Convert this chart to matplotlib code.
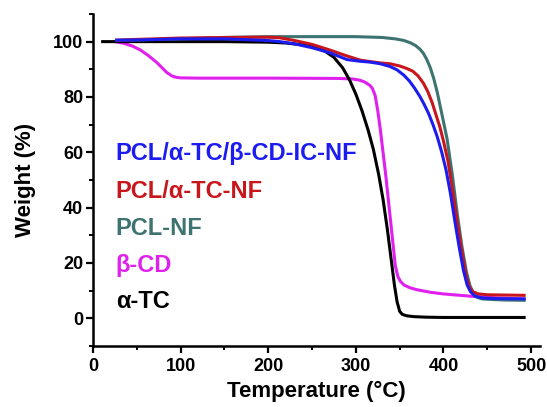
import matplotlib.pyplot as plt
from matplotlib.ticker import MultipleLocator

plt.rcParams['font.family'] = ['Liberation Sans', 'DejaVu Sans']
plt.rcParams['font.weight'] = 'bold'

# TGA data: temperature (°C), weight (%)
t_tc = [11, 50, 100, 150, 200, 220, 240, 255, 265, 275, 285, 293, 300, 307, 314, 320, 326, 331, 336,
        340, 344, 347, 350, 353, 358, 366, 380, 400, 440, 492]
w_tc = [100, 100, 100, 100, 99.8, 99.5, 98.8, 97.8, 96.5, 94.3, 90.5, 86, 81, 75, 68, 61, 52, 43, 32,
        22, 12, 6, 2.5, 1.4, 0.9, 0.6, 0.4, 0.3, 0.3, 0.3]

t_cd = [25, 35, 45, 54, 63, 73, 79, 84, 90, 95, 100, 120, 200, 280, 296, 304, 310, 316, 319, 322, 325,
        328, 331, 334, 337, 341, 345, 348, 351, 355, 362, 370, 385, 400, 430, 460, 492]
w_cd = [100, 99.4, 98.4, 97, 95, 92.4, 90.5, 88.9, 87.6, 87.1, 86.9, 86.8, 86.8, 86.7, 86.5, 86.1, 85.4,
        84.2, 83, 80.5, 75, 68, 60, 52, 43, 31, 19, 15, 13.3, 12, 11, 10.3, 9.4, 8.8, 8, 7.4, 7]

t_pcl = [27, 50, 100, 150, 200, 250, 300, 330, 345, 355, 362, 368, 373, 377, 381, 385, 389, 393, 398,
         404, 410, 416, 421, 426, 430, 434, 438, 444, 455, 470, 492]
w_pcl = [100.5, 100.6, 101, 101.5, 101.8, 101.8, 101.8, 101.5, 101, 100.4, 99.6, 98.6, 97.3, 95.8, 93.5,
         90.5, 86.5, 81.5, 74, 65, 52, 37, 26, 17, 12, 9, 7.6, 7, 6.8, 6.6, 6.5]

t_tcnf = [27, 50, 100, 150, 200, 213, 230, 250, 270, 290, 305, 316, 328, 339, 350, 358, 365, 371, 377,
          382, 387, 392, 396, 400, 405, 410, 416, 421, 426, 430, 434, 440, 450, 470, 492]
w_tcnf = [100.5, 100.8, 101.3, 101.5, 101.6, 101.4, 100.4, 99, 97, 94.8, 93.3, 92.8, 92.3, 92, 91.2,
          90.3, 89.3, 87.6, 85, 82, 78, 73, 69, 64, 57, 47, 34, 24, 15, 11, 9.5, 8.8, 8.5, 8.4, 8.3]

t_ic = [27, 50, 100, 150, 200, 213, 230, 250, 270, 290, 305, 316, 328, 339, 347, 355, 361, 367, 373,
        378, 383, 388, 393, 398, 403, 408, 413, 418, 423, 427, 431, 436, 445, 460, 492]
w_ic = [100.5, 100.6, 101, 101, 100.4, 100, 99.2, 97.8, 96, 93.5, 92.9, 92.6, 92, 91, 89.8, 87.8, 85.8,
        83.2, 80.2, 77.3, 74, 70, 65.5, 60, 53.5, 45, 35, 25.5, 17, 12, 9.5, 8, 7.3, 7.1, 7]

labels = ['PCL/α-TC/β-CD-IC-NF', 'PCL/α-TC-NF', 'PCL-NF', 'β-CD', 'α-TC']
label_y = [57.2, 43.5, 30, 16.7, 3.6]
colors = ['#1c1cf0', '#c8161c', '#3d7370', '#e020ee', '#000000']

fig = plt.figure(figsize=(5.47, 4.07), dpi=100)
ax = fig.add_axes([0.170, 0.150, 0.817, 0.8157])

ax.plot(t_cd, w_cd, color=colors[3], lw=2.2)
ax.plot(t_tc, w_tc, color=colors[4], lw=2.2)
ax.plot(t_pcl, w_pcl, color=colors[2], lw=2.2)
ax.plot(t_tcnf, w_tcnf, color=colors[1], lw=2.2)
ax.plot(t_ic, w_ic, color=colors[0], lw=2.2)

for lab, y, c in zip(labels, label_y, colors):
    ax.text(26, y, lab, color=c, fontsize=17, fontweight='bold', va='baseline', ha='left')

ax.set_xlim(0, 510)
ax.set_ylim(-10, 110)
ax.xaxis.set_major_locator(MultipleLocator(100))
ax.xaxis.set_minor_locator(MultipleLocator(50))
ax.yaxis.set_major_locator(MultipleLocator(20))
ax.yaxis.set_minor_locator(MultipleLocator(10))

for s in ['top', 'right']:
    ax.spines[s].set_visible(False)
for s in ['left', 'bottom']:
    ax.spines[s].set_linewidth(1.8)

ax.tick_params(which='major', direction='out', length=5, width=1.6, labelsize=13)
ax.tick_params(axis='x', which='major', pad=4)
ax.tick_params(axis='y', which='major', pad=2)
ax.tick_params(which='minor', direction='out', length=3, width=1.4)
for lab in ax.get_xticklabels() + ax.get_yticklabels():
    lab.set_fontweight('bold')

ax.set_xlabel('Temperature (°C)', fontsize=16, fontweight='bold', labelpad=4)
ax.set_ylabel('Weight (%)', fontsize=16, fontweight='bold', labelpad=12)

fig.savefig('out.png', dpi=100)
